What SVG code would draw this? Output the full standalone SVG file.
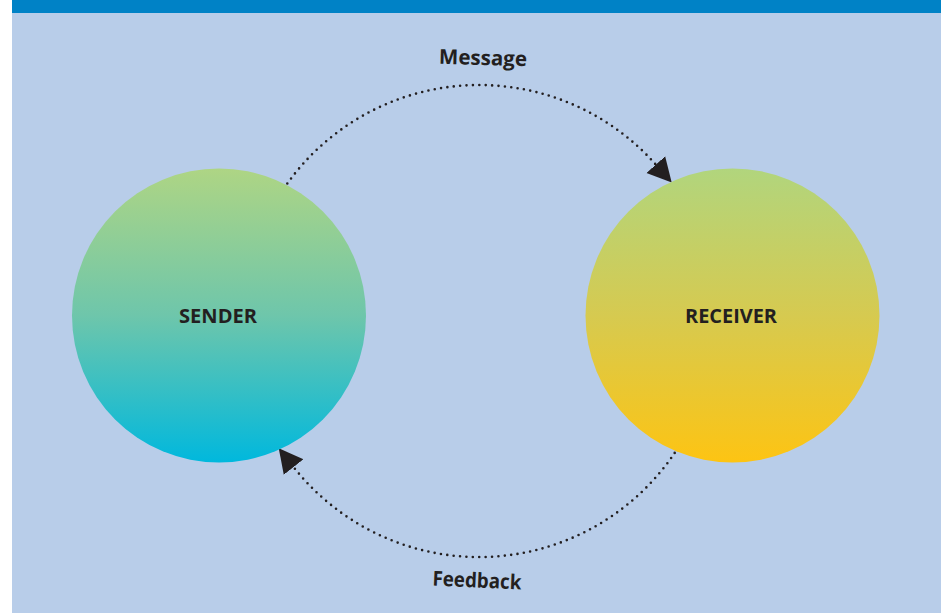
<svg xmlns="http://www.w3.org/2000/svg" width="941" height="613" viewBox="0 0 941 613">
  <style>
    .lbl { font-family: "Open Sans", "Noto Sans", "Liberation Sans", sans-serif; font-weight: 700; fill: #231f20; }
    .node-label { font-size: 20px; }
    .edge-label { font-size: 20.5px; }
    .dots { fill: none; stroke: #231f20; stroke-width: 2.6; stroke-linecap: round; stroke-dasharray: 0 6.4; }
  </style>
  <defs>
    <linearGradient id="gSender" x1="0" y1="0" x2="0" y2="1">
      <stop offset="0" stop-color="#aed584"/>
      <stop offset="0.5" stop-color="#6ec6ab"/>
      <stop offset="1" stop-color="#00b8dd"/>
    </linearGradient>
    <linearGradient id="gReceiver" x1="0" y1="0" x2="0" y2="1">
      <stop offset="0" stop-color="#b1d57d"/>
      <stop offset="0.5" stop-color="#d6ca50"/>
      <stop offset="1" stop-color="#fdc413"/>
    </linearGradient>
    <marker id="arrow" markerUnits="userSpaceOnUse" markerWidth="26" markerHeight="28" refX="0" refY="13" orient="auto" viewBox="0 0 26 26">
      <path d="M0,0.5 L24,13 L0,25.5 z" fill="#231f20"/>
    </marker>
  </defs>

  <rect x="0" y="0" width="941" height="613" fill="#ffffff"/>
  <rect x="12" y="0" width="929" height="613" fill="#b8cde9"/>
  <rect x="12" y="0" width="929" height="13" fill="#0082c6"/>

  <g id="connectors">
    <path id="message-edge" class="dots" d="M287.3,183.5 A236,236 0 0 1 655.8,164.6" marker-end="url(#arrow)"/>
    <path id="feedback-edge" class="dots" d="M674.7,452.9 A236,236 0 0 1 293.6,467.1" marker-end="url(#arrow)"/>
    <text class="lbl edge-label" x="483" y="65" text-anchor="middle" textLength="88" lengthAdjust="spacingAndGlyphs" transform="rotate(1.5 483 58)">Message</text>
    <text class="lbl edge-label" x="477" y="587.5" text-anchor="middle" textLength="89" lengthAdjust="spacingAndGlyphs" transform="rotate(2.5 477 580)">Feedback</text>
  </g>

  <g id="sender">
    <circle cx="219" cy="315.5" r="147" fill="url(#gSender)"/>
    <text class="lbl node-label" x="218" y="323.3" text-anchor="middle" textLength="78" lengthAdjust="spacingAndGlyphs">SENDER</text>
  </g>

  <g id="receiver">
    <circle cx="732.5" cy="315.5" r="147" fill="url(#gReceiver)"/>
    <text class="lbl node-label" x="731" y="323.3" text-anchor="middle" textLength="92" lengthAdjust="spacingAndGlyphs">RECEIVER</text>
  </g>
</svg>
